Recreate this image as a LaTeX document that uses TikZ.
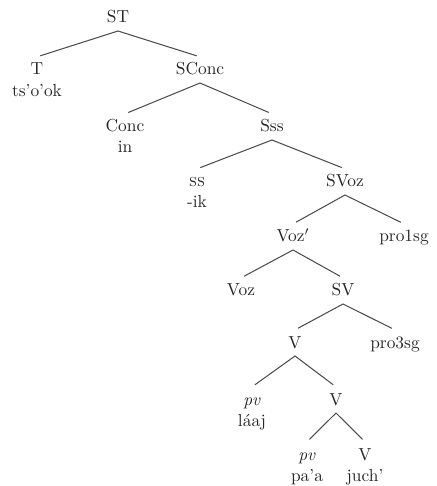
\documentclass[tikz,border=0pt]{standalone}
\usepackage{tikz}

\tikzset{
	cat/.style={anchor=base, inner sep=3.33pt, text height=1.6ex, text depth=.25ex, text=black!85},
	word/.style={anchor=base, inner sep=1pt, text=black!85},
	branch/.style={line width=0.6pt, color=black!70, shorten <=2pt, shorten >=2pt}
}

\begin{document}
\begin{tikzpicture}[x=0.575pt, y=-0.575pt]
			%%%%% START %%%%%
			\useasboundingbox (0, 0) rectangle (436, 486);
			
			% categories
			\node[cat] (ST) at (118, 23) {ST};
			\node[cat] (T) at (37, 75) {T};
			\node[cat] (SConc) at (200, 75) {SConc};
			\node[cat] (Conc) at (125, 132) {Conc};
			\node[cat] (Sss) at (272, 132) {Sss};
			\node[cat] (ss) at (197, 187) {\textsc{ss}};
			\node[cat] (SVoz) at (345, 187) {SVoz};
			\node[cat] (Vozb) at (293, 242) {Voz$'$};
			\node[cat] (proA) at (404, 242) {pro1sg};
			\node[cat] (Voz) at (241, 296) {Voz};
			\node[cat] (SV) at (343, 296) {SV};
			\node[cat] (Va) at (295, 348) {V};
			\node[cat] (proB) at (395, 348) {pro3sg};
			\node[cat] (pvA) at (252, 405) {\textit{pv}};
			\node[cat] (Vb) at (336, 405) {V};
			\node[cat] (pvB) at (307, 460) {\textit{pv}};
			\node[cat] (Vc) at (365, 460) {V};
			
			% words
			\node[word] (wT) at (37, 97) {ts'o'ok};
			\node[word] (wConc) at (125, 153) {in};
			\node[word] (wss) at (197, 208) {-ik};
			\node[word] (wpvA) at (252, 426) {l\'aaj};
			\node[word] (wpvB) at (307, 481) {pa'a};
			\node[word] (wVc) at (365, 481) {juch'};
			
			% branches
			\draw[branch] (T.north) -- (ST.south) -- (SConc.north);
			\draw[branch] (Conc.north) -- (SConc.south) -- (Sss.north);
			\draw[branch] (ss.north) -- (Sss.south) -- (SVoz.north);
			\draw[branch] (Vozb.north) -- (SVoz.south) -- (proA.north);
			\draw[branch] (Voz.north) -- (Vozb.south) -- (SV.north);
			\draw[branch] (Va.north) -- (SV.south) -- (proB.north);
			\draw[branch] (pvA.north) -- (Va.south) -- (Vb.north);
			\draw[branch] (pvB.north) -- (Vb.south) -- (Vc.north);
			
			%%%%% END %%%%%
		\end{tikzpicture}
\end{document}
